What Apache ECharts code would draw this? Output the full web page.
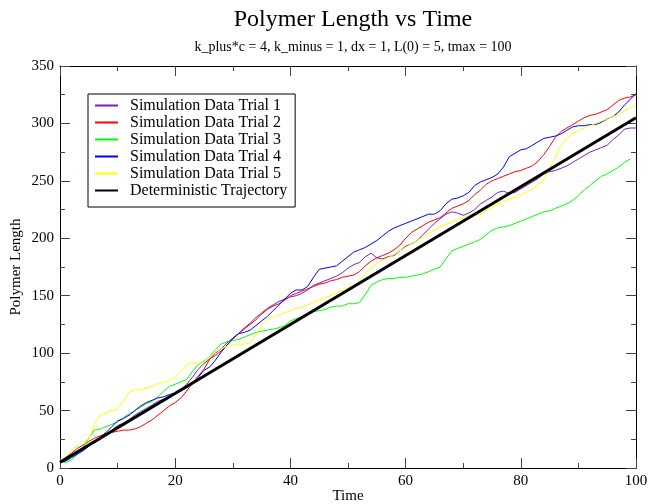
<!DOCTYPE html>
<html>
<head>
<meta charset="utf-8">
<script src="https://cdn.jsdelivr.net/npm/echarts@6/dist/echarts.min.js"></script>
<style>
  html, body { margin: 0; padding: 0; background: #fff; }
  #chart { width: 649px; height: 504px; }
</style>
</head>
<body>
<div id="chart"></div>
<script>
// values: [time, length]
const trial1 = [[0,5],[1,7],[2,10],[3,13],[4,16],[5,19],[6,22],[7,25],[8,29],[9,33],[10,37],[11,39],[12,42],[13,46],[14,49],[15,52],[16,55],[17,58],[18,60],[19,62],[20,65],[21,68],[22,73],[23,79],[24,86],[25,91],[26,95],[27,100],[28,104],[29,109],[30,113],[31,117],[32,122],[33,126],[34,131],[35,135],[36,139],[37,142],[38,145],[39,147],[40,149],[41,150],[42,152],[43,155],[44,159],[45,161],[46,163],[47,165],[48,167],[49,170],[50,174],[51,177],[52,179],[53,184],[54,187],[55,183],[56,182],[57,184],[58,185],[59,189],[60,193],[61,195],[62,198],[63,203],[64,208],[65,213],[66,217],[67,221],[68,223],[69,222],[70,220],[71,222],[72,225],[73,230],[74,233],[75,236],[76,240],[77,241],[78,239],[79,240],[80,243],[81,246],[82,249],[83,252],[84,256],[85,258],[86,259],[87,261],[88,263],[89,266],[90,269],[91,272],[92,275],[93,277],[94,279],[95,281],[96,286],[97,290],[98,295],[99,296],[100,296]];
const trial2 = [[0,5],[1,9],[2,13],[3,17],[4,20],[5,23],[6,26],[7,28],[8,30],[9,31],[10,32],[11,33],[12,33],[13,34],[14,36],[15,39],[16,42],[17,46],[18,50],[19,54],[20,57],[21,61],[22,67],[23,74],[24,80],[25,86],[26,95],[27,98],[28,102],[29,107],[30,112],[31,117],[32,121],[33,125],[34,129],[35,134],[36,138],[37,141],[38,143],[39,146],[40,150],[41,152],[42,154],[43,156],[44,158],[45,160],[46,161],[47,163],[48,164],[49,166],[50,167],[51,168],[52,171],[53,176],[54,180],[55,183],[56,185],[57,187],[58,190],[59,194],[60,200],[61,205],[62,208],[63,211],[64,214],[65,216],[66,218],[67,222],[68,226],[69,228],[70,230],[71,233],[72,238],[73,242],[74,247],[75,250],[76,252],[77,254],[78,256],[79,258],[80,259],[81,261],[82,263],[83,267],[84,273],[85,280],[86,288],[87,293],[88,296],[89,299],[90,302],[91,305],[92,307],[93,308],[94,310],[95,312],[96,316],[97,320],[98,322],[99,323],[100,325]];
const trial3 = [[0,5],[1,5],[2,7],[3,12],[4,18],[5,26],[6,33],[7,34],[8,36],[9,38],[10,40],[11,44],[12,47],[13,50],[14,53],[15,56],[16,58],[17,62],[18,67],[19,71],[20,73],[21,75],[22,77],[23,84],[24,90],[25,93],[26,97],[27,103],[28,108],[29,110],[30,111],[31,112],[32,114],[33,116],[34,118],[35,119],[36,120],[37,121],[38,122],[39,124],[40,128],[41,130],[42,132],[43,134],[44,136],[45,137],[46,138],[47,140],[48,141],[49,141],[50,143],[51,143],[52,144],[53,151],[54,159],[55,162],[56,164],[57,165],[58,165],[59,166],[60,166],[61,167],[62,168],[63,169],[64,171],[65,173],[66,175],[67,182],[68,189],[69,191],[70,193],[71,195],[72,197],[73,199],[74,203],[75,207],[76,209],[77,210],[78,211],[79,213],[80,215],[81,217],[82,219],[83,221],[84,223],[85,224],[86,226],[87,228],[88,230],[89,233],[90,237],[91,242],[92,246],[93,250],[94,254],[95,256],[96,259],[97,262],[98,266],[99,269]];
const trial4 = [[0,5],[1,6],[2,9],[3,12],[4,15],[5,19],[6,23],[7,27],[8,31],[9,36],[10,41],[11,43],[12,46],[13,50],[14,54],[15,57],[16,59],[17,61],[18,62],[19,64],[20,65],[21,67],[22,70],[23,73],[24,79],[25,85],[26,88],[27,94],[28,101],[29,107],[30,113],[31,117],[32,118],[33,120],[34,124],[35,128],[36,132],[37,137],[38,142],[39,147],[40,152],[41,155],[42,155],[43,158],[44,166],[45,173],[46,174],[47,175],[48,176],[49,180],[50,184],[51,188],[52,190],[53,192],[54,195],[55,198],[56,202],[57,206],[58,209],[59,211],[60,213],[61,215],[62,217],[63,219],[64,221],[65,221],[66,224],[67,230],[68,234],[69,235],[70,237],[71,240],[72,246],[73,249],[74,251],[75,253],[76,256],[77,262],[78,271],[79,274],[80,277],[81,278],[82,281],[83,284],[84,287],[85,288],[86,289],[87,291],[88,294],[89,297],[90,298],[91,298],[92,299],[93,299],[94,301],[95,304],[96,306],[97,310],[98,316],[99,321],[100,326]];
const trial5 = [[0,5],[1,10],[2,15],[3,20],[4,23],[5,25],[6,38],[7,46],[8,48],[9,50],[10,51],[11,58],[12,66],[13,68],[14,68],[15,70],[16,71],[17,73],[18,75],[19,76],[20,79],[21,84],[22,90],[23,92],[24,91],[25,92],[26,97],[27,101],[28,104],[29,106],[30,107],[31,107],[32,108],[33,109],[34,116],[35,124],[36,129],[37,131],[38,133],[39,135],[40,137],[41,139],[42,140],[43,142],[44,144],[45,146],[46,148],[47,150],[48,153],[49,155],[50,157],[51,158],[52,163],[53,169],[54,174],[55,178],[56,181],[57,183],[58,186],[59,189],[60,192],[61,195],[62,198],[63,201],[64,204],[65,207],[66,210],[67,212],[68,214],[69,216],[70,218],[71,220],[72,220],[73,221],[74,224],[75,227],[76,230],[77,232],[78,234],[79,236],[80,238],[81,240],[82,243],[83,246],[84,252],[85,260],[86,271],[87,281],[88,287],[89,291],[90,294],[91,296],[92,298],[93,300],[94,302],[95,304],[96,306],[97,308],[98,311],[99,314],[100,316]];
const deterministic = [[0,5],[100,305]];

const seriesNames = ['Simulation Data Trial 1', 'Simulation Data Trial 2', 'Simulation Data Trial 3',
  'Simulation Data Trial 4', 'Simulation Data Trial 5', 'Deterministic Trajectory'];
const seriesData = [trial1, trial2, trial3, trial4, trial5, deterministic];
const seriesColors = ['#7221bc', '#ff0000', '#00ff00', '#0000ff', '#ffff00', '#000000'];

const FONT = "'Liberation Serif', 'Times New Roman', serif";

const chart = echarts.init(document.getElementById('chart'), null, { renderer: 'canvas' });

function axisBase(showLabels) {
  return {
    type: 'value',
    splitLine: { show: false },
    axisLine: { show: true, onZero: false, lineStyle: { color: '#000', width: 1 } },
    axisTick: { show: true, inside: true, length: 10, lineStyle: { color: '#444', width: 1 } },
    minorTick: { show: true, splitNumber: 2, length: 5, lineStyle: { color: '#444', width: 1 } },
    axisLabel: { show: showLabels, color: '#000', fontFamily: FONT, fontSize: 15, margin: 6 }
  };
}

const series = seriesData.map((data, i) => ({
  name: seriesNames[i],
  type: 'line',
  data,
  symbol: 'none',
  animation: false,
  lineStyle: { color: seriesColors[i], width: i === 5 ? 3 : 1 },
  itemStyle: { color: seriesColors[i] },
  z: i === 5 ? 5 : 2
}));

chart.setOption({
  backgroundColor: '#fff',
  animation: false,
  title: [
    { text: 'Polymer Length vs Time', left: 348, top: 3, textAlign: 'center',
      textStyle: { fontFamily: FONT, fontSize: 24, fontWeight: 'normal', color: '#000' } },
    { text: 'k_plus*c = 4, k_minus = 1, dx = 1, L(0) = 5, tmax = 100', left: 348, top: 35, textAlign: 'center',
      textStyle: { fontFamily: FONT, fontSize: 14, fontWeight: 'normal', color: '#000' } }
  ],
  legend: {
    data: seriesNames,
    orient: 'vertical',
    left: 88, top: 94,
    itemWidth: 23, itemHeight: 14, itemGap: 0,
    padding: [3, 8, 8, 6],
    borderColor: '#000', borderWidth: 1,
    itemStyle: { opacity: 0 },
    textStyle: { fontFamily: FONT, fontSize: 16, lineHeight: 17, color: '#000', padding: [0, 0, 0, 7] }
  },
  grid: { left: 60, top: 66, width: 576, height: 402, show: false, containLabel: false, outerBoundsMode: 'none' },
  xAxis: [
    Object.assign(axisBase(true), {
      position: 'bottom', min: 0, max: 100, interval: 20,
      name: 'Time', nameLocation: 'middle', nameGap: 21, nameMoveOverlap: false,
      nameTextStyle: { fontFamily: FONT, fontSize: 15, color: '#000' }
    }),
    Object.assign(axisBase(false), { position: 'top', min: 0, max: 100, interval: 20 })
  ],
  yAxis: [
    Object.assign(axisBase(true), {
      position: 'left', min: 0, max: 350, interval: 50,
      name: 'Polymer Length', nameLocation: 'middle', nameGap: 36, nameMoveOverlap: false,
      nameTextStyle: { fontFamily: FONT, fontSize: 15, color: '#000' }
    }),
    Object.assign(axisBase(false), { position: 'right', min: 0, max: 350, interval: 50 })
  ],
  series
});
</script>
</body>
</html>
